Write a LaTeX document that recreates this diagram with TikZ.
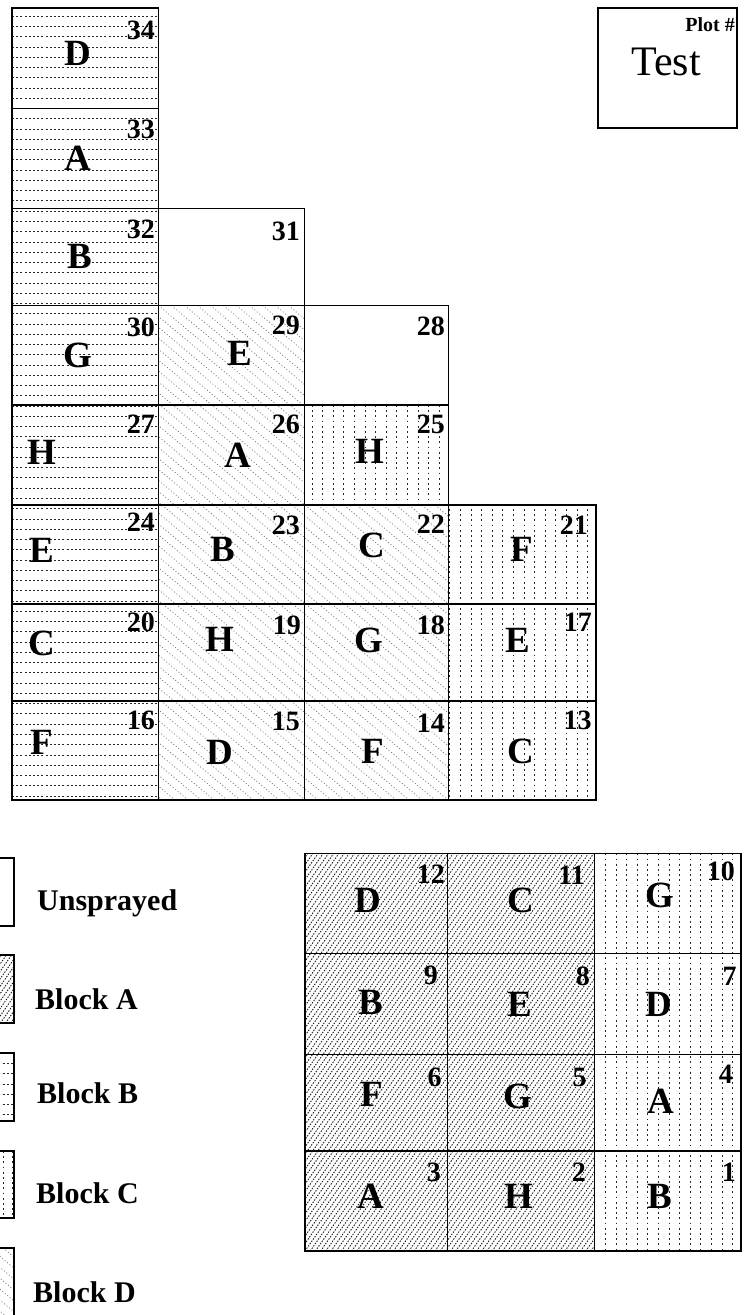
\documentclass[tikz,border=0pt]{standalone}
\usepackage{fontspec}
\setmainfont{Liberation Serif}
\newcommand{\HatchNE}[4]{% x0 y0 x1 y1 : dotted lines rising to the right
  \pgfmathsetmacro{\HHgt}{#4-#2}%
  \pgfmathsetmacro{\HRun}{\HHgt*0.70}%
  \pgfmathtruncatemacro{\HKmin}{-ceil(\HRun/5.2)}%
  \pgfmathtruncatemacro{\HKmax}{ceil((#3-#1)/5.2)}%
  \foreach \k in {\HKmin,...,\HKmax} \draw[patA] ({#1+\k*5.2},#4) -- ++(\HRun,-\HHgt);%
}
\newcommand{\HatchNW}[4]{% x0 y0 x1 y1 : dotted lines falling to the right
  \pgfmathsetmacro{\HHgt}{#4-#2}%
  \pgfmathsetmacro{\HRun}{\HHgt*1.19}%
  \pgfmathtruncatemacro{\HKmin}{-ceil(\HRun/13)}%
  \pgfmathtruncatemacro{\HKmax}{ceil((#3-#1)/13)}%
  \foreach \k in {\HKmin,...,\HKmax} \draw[patD] ({#1+\k*13},#2) -- ++(\HRun,\HHgt);%
}
\begin{document}
\begin{tikzpicture}[x=1pt,y=-1pt,
  border/.style={draw=black,line width=1.1pt},
  patB/.style={black!85,line width=0.9pt,dash pattern=on 2pt off 2.2pt},
  patC/.style={black!85,line width=1pt,dash pattern=on 1.8pt off 3.4pt},
  patA/.style={black!90,line width=0.9pt,dash pattern=on 1.4pt off 1.4pt},
  patD/.style={black!55,line width=0.7pt,dash pattern=on 1pt off 2.2pt},
  ltr/.style={inner sep=0pt,font=\fontsize{37}{42}\selectfont\bfseries},
  num/.style={inner sep=0pt,anchor=east,font=\fontsize{28}{32}\selectfont\bfseries},
  leg/.style={inner sep=0pt,anchor=base west,font=\fontsize{30}{34}\selectfont\bfseries}]
\useasboundingbox (0,0) rectangle (747,1315);
\clip (0,0) rectangle (747,1315);
\fill[white] (0,0) rectangle (747,1315);

% ---------- Block B (horizontal dotted) ----------
\begin{scope}
  \clip (12,8) rectangle (158.5,800);
  \foreach \k [evaluate=\k as \yy using {round(15.8+\k*10.26)+0.5}] in {0,...,76}
    \draw[patB] (12,\yy) -- (158.5,\yy);
\end{scope}
\begin{scope}
  \clip (-10,1053) rectangle (14,1121);
  \foreach \k [evaluate=\k as \yy using {round(1053+\k*10.2)+0.5}] in {1,...,6}
    \draw[patB] (-10,\yy) -- (14,\yy);
\end{scope}

% ---------- Block C (vertical dotted) ----------
\begin{scope}
  \clip (304.5,405) rectangle (448.5,505) (448.5,505) rectangle (596,800);
  \foreach \k [evaluate=\k as \xx using {round(449.4+\k*10.6)+0.5}] in {-14,...,14}
    \draw[patC] (\xx,405) -- (\xx,800);
\end{scope}
\begin{scope}
  \clip (594.3,853.3) rectangle (741,1251);
  \foreach \k [evaluate=\k as \xx using {round(594.3+\k*10.6)+0.5}] in {1,...,13}
    \draw[patC] (\xx,853.3) -- (\xx,1251);
\end{scope}
\begin{scope}
  \clip (-10,1151) rectangle (14,1218);
  \foreach \xx in {3.5,12.5} \draw[patC] (\xx,1151) -- (\xx,1218);
\end{scope}

% ---------- Block A (dense rising hatch) ----------
\begin{scope}
  \clip (305,853.3) rectangle (594.3,1251);
  \HatchNE{305}{853.3}{594.3}{1251}
\end{scope}
\begin{scope}
  \clip (-10,955) rectangle (14,1023);
  \HatchNE{-10}{955}{14}{1023}
\end{scope}

% ---------- Block D (sparse falling hatch) ----------
\begin{scope}
  \clip (158.5,305.5) rectangle (304.5,800) (304.5,505) rectangle (448.5,800);
  \HatchNW{158.5}{305.5}{448.5}{800}
\end{scope}
\begin{scope}
  \clip (-10,1248) rectangle (14,1316);
  \HatchNW{-10}{1248}{14}{1316}
\end{scope}

% ---------- cell borders ----------
\foreach \a/\b/\c/\d in {
  12/8/158.5/108.2, 12/108.2/158.5/208.2, 12/208.2/158.5/305.5, 158.5/208.2/304.5/305.5,
  12/305.5/158.5/405, 158.5/305.5/304.5/405, 304.5/305.5/448.5/405,
  12/405/158.5/505, 158.5/405/304.5/505, 304.5/405/448.5/505,
  12/505/158.5/604, 158.5/505/304.5/604, 304.5/505/448.5/604, 448.5/505/596/604,
  12/604/158.5/701, 158.5/604/304.5/701, 304.5/604/448.5/701, 448.5/604/596/701,
  12/701/158.5/800, 158.5/701/304.5/800, 304.5/701/448.5/800, 448.5/701/596/800,
  305/853.3/447.7/953.3, 447.7/853.3/594.3/953.3, 594.3/853.3/741/953.3,
  305/953.3/447.7/1054.5, 447.7/953.3/594.3/1054.5, 594.3/953.3/741/1054.5,
  305/1054.5/447.7/1151, 447.7/1054.5/594.3/1151, 594.3/1054.5/741/1151,
  305/1151/447.7/1251, 447.7/1151/594.3/1251, 594.3/1151/741/1251,
  -10/858/14/926, -10/955/14/1023, -10/1053/14/1121, -10/1151/14/1218, -10/1248/14/1316,
  598/8/737/128}
  \draw[border] (\a,\b) rectangle (\c,\d);

% ---------- treatment letters ----------
\foreach \n/\t/\x/\y in {
  34/D/78/53, 33/A/77.5/158, 32/B/80/256, 30/G/78/355.5, 29/E/240/353,
  27/H/42/452, 26/A/238/455, 25/H/370/451,
  24/E/42/550, 23/B/222.5/549.7, 22/C/371.7/545.8, 21/F/521.7/549,
  20/C/42/643, 19/H/220/639.7, 18/G/369/640, 17/E/518/640,
  16/F/42/742, 15/D/220/752, 14/F/372.5/751, 13/C/521/751.5,
  12/D/368/900, 11/C/520.8/900, 10/G/660/895.8,
  9/B/371/1002.5, 8/E/520/1004, 7/D/659/1004,
  6/F/371.7/1094, 5/G/518/1096, 4/A/661/1101.5,
  3/A/371/1196, 2/H/519/1196, 1/B/660/1196}
  \node[ltr] (L\n) at (\x,\y) {\t};

% ---------- plot numbers ----------
\foreach \n/\x/\y in {
  34/155/30.8, 33/155/129, 32/155/229, 31/300/231.7, 30/155/327, 29/300/325, 28/445/326,
  27/155/424, 26/300/424, 25/445/424, 24/155/522, 23/300/525, 22/445/524, 21/588/525,
  20/155/622, 19/301/625, 18/445/625, 17/592/622, 16/155/720, 15/300/721, 14/445/723, 13/591.7/720,
  12/445/874, 11/585/875, 10/735/871.7, 9/438/975, 8/590/976, 7/736.7/976,
  6/441.7/1077, 5/586.7/1077, 4/733/1074, 3/441/1172, 2/586/1172, 1/736/1172}
  \node[num] (N\n) at (\x,\y) {\n};

% ---------- title box ----------
\node[inner sep=0pt,anchor=base east,font=\fontsize{20}{24}\selectfont\bfseries] (plot) at (735,31) {Plot \#};
\node[inner sep=0pt,anchor=base,font=\fontsize{42}{48}\selectfont] (test) at (666,75) {Test};

% ---------- legend ----------
\node[leg] (lu) at (37,910) {Unsprayed};
\node[leg] (la) at (35,1009) {Block A};
\node[leg] (lb) at (37,1103) {Block B};
\node[leg] (lc) at (36,1203) {Block C};
\node[leg] (ld) at (33,1302) {Block D};
\end{tikzpicture}
\end{document}
